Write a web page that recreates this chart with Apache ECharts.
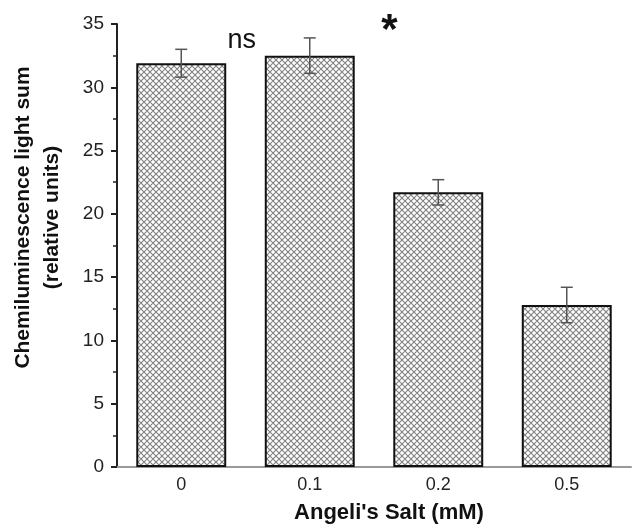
<!DOCTYPE html>
<html><head><meta charset="utf-8">
<script src="https://cdn.jsdelivr.net/npm/echarts@6/dist/echarts.min.js"></script>
<style>html,body{margin:0;padding:0;background:#fff}#c{width:634px;height:525px}</style>
</head><body><div id="c"></div>
<script>
const categories = ['0', '0.1', '0.2', '0.5'];
const values = [31.9, 32.5, 21.7, 12.8];
const errors = [1.1, 1.4, 1.0, 1.4];
const yTicks = [0, 5, 10, 15, 20, 25, 30, 35];
const annotationTexts = ['ns', '*'];
const annotationCats = [0.47, 1.62];
const annotationVals = [33.7, 34.4];

const tile = document.createElement('canvas');
tile.width = 6; tile.height = 6;
const g = tile.getContext('2d');
g.fillStyle = '#ffffff'; g.fillRect(0, 0, 6, 6);
g.strokeStyle = '#808080'; g.lineWidth = 1.1;
g.beginPath();
g.moveTo(0, 0); g.lineTo(6, 6);
g.moveTo(6, 0); g.lineTo(0, 6);
g.moveTo(-3, 3); g.lineTo(3, 9);
g.moveTo(3, -3); g.lineTo(9, 3);
g.moveTo(3, -3); g.lineTo(-3, 3);
g.moveTo(9, 3); g.lineTo(3, 9);
g.stroke();

const FONT = 'Liberation Sans, Arial, sans-serif';
const chart = echarts.init(document.getElementById('c'));
chart.setOption({
  animation: false,
  grid: { left: 117, right: 3, top: 24, bottom: 58, containLabel: false, outerBoundsMode: 'none' },
  xAxis: {
    type: 'category', data: categories,
    axisLine: { lineStyle: { color: '#999', width: 2 } },
    axisTick: { show: false },
    axisLabel: { color: '#222', fontSize: 18, fontFamily: FONT, margin: 9 },
    name: "Angeli's Salt (mM)", nameLocation: 'middle', nameGap: 35, nameMoveOverlap: false,
    nameTextStyle: { color: '#111', fontSize: 22, fontWeight: 'bold', fontFamily: FONT, padding: [0, 0, 0, 30] }
  },
  yAxis: {
    type: 'value', min: yTicks[0], max: yTicks[yTicks.length - 1], interval: 5,
    axisLine: { show: true, lineStyle: { color: '#222', width: 2 } },
    axisTick: { show: true, length: 6, inside: false, lineStyle: { color: '#222', width: 2 } },
    minorTick: { show: true, splitNumber: 2, length: 4, lineStyle: { color: '#222', width: 1.5 } },
    splitLine: { show: false },
    axisLabel: { color: '#222', fontSize: 19, fontFamily: FONT, margin: 13 },
    name: 'Chemiluminescence light sum\n(relative units)', nameLocation: 'middle', nameGap: 50, nameMoveOverlap: false,
    nameTextStyle: { color: '#111', fontSize: 21, fontWeight: 'bold', fontFamily: FONT, lineHeight: 29, padding: [0, 0, 0, 56] }
  },
  series: [
    {
      type: 'bar', data: values, barWidth: '70%',
      itemStyle: { color: { image: tile, repeat: 'repeat' }, borderColor: '#111', borderWidth: 2 }
    },
    {
      type: 'custom', data: values.map((v, i) => [i, v - errors[i], v + errors[i]]),
      renderItem: function (params, api) {
        const lo = api.coord([api.value(0), api.value(1)]);
        const hi = api.coord([api.value(0), api.value(2)]);
        const w = 6;
        const st = { stroke: '#555', lineWidth: 1.5 };
        return { type: 'group', children: [
          { type: 'line', shape: { x1: hi[0], y1: hi[1], x2: lo[0], y2: lo[1] }, style: st },
          { type: 'line', shape: { x1: hi[0] - w, y1: hi[1], x2: hi[0] + w, y2: hi[1] }, style: st },
          { type: 'line', shape: { x1: lo[0] - w, y1: lo[1], x2: lo[0] + w, y2: lo[1] }, style: st }
        ] };
      },
      z: 10
    },
    {
      type: 'custom', data: annotationTexts.map((t, i) => [annotationCats[i], annotationVals[i]]),
      renderItem: function (params, api) {
        const c = annotationCats[params.dataIndex];
        const base = Math.floor(c);
        const a = api.coord([base, annotationVals[params.dataIndex]]);
        const b = api.coord([base + 1, annotationVals[params.dataIndex]]);
        const x = a[0] + (b[0] - a[0]) * (c - base);
        const t = annotationTexts[params.dataIndex];
        const star = t === '*';
        return { type: 'text', x: x, y: a[1], style: {
          text: t, fill: '#111', align: 'center', verticalAlign: 'middle',
          font: (star ? 'bold 42px ' : '27px ') + FONT
        } };
      },
      z: 11
    }
  ]
});
</script></body></html>
